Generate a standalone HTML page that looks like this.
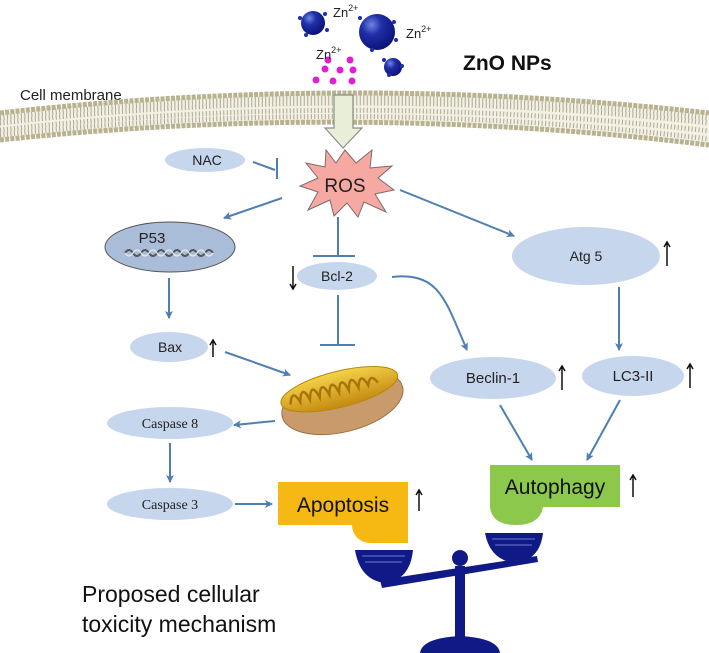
<!DOCTYPE html>
<html><head><meta charset="utf-8"><style>
html,body{margin:0;padding:0;background:#fff;}
svg{display:block;font-family:"Liberation Sans",sans-serif;}
</style></head><body>
<svg width="709" height="653" viewBox="0 0 709 653" xmlns="http://www.w3.org/2000/svg">
<defs>
<marker id="ah" markerWidth="8" markerHeight="8" refX="7" refY="4" orient="auto" markerUnits="userSpaceOnUse">
<path d="M0,0 L8,4 L0,8 L2,4 z" fill="#4f7fb0"/></marker>
<radialGradient id="np" cx="0.35" cy="0.3" r="0.7"><stop offset="0" stop-color="#6f86e0"/><stop offset="0.4" stop-color="#1f2fa8"/><stop offset="1" stop-color="#0c147a"/></radialGradient>
<linearGradient id="gold" x1="0" y1="0" x2="0" y2="1"><stop offset="0" stop-color="#f5d34a"/><stop offset="1" stop-color="#c48a10"/></linearGradient>
</defs>

<circle cx="313" cy="23" r="12" fill="url(#np)"/>
<circle cx="377" cy="32" r="18" fill="url(#np)"/>
<circle cx="393" cy="67" r="9" fill="url(#np)"/>
<g fill="#1f2fa8"><circle cx="300" cy="18" r="2"/><circle cx="325" cy="14" r="2"/><circle cx="327" cy="30" r="2"/><circle cx="306" cy="35" r="2"/><circle cx="360" cy="18" r="2"/><circle cx="394" cy="22" r="2"/><circle cx="396" cy="40" r="2"/><circle cx="372" cy="50" r="2"/><circle cx="384" cy="60" r="2"/><circle cx="402" cy="66" r="2"/><circle cx="389" cy="75" r="2"/></g>
<g fill="#e020d0"><circle cx="328" cy="60" r="3.5"/><circle cx="350" cy="60" r="3.5"/><circle cx="325" cy="69" r="3.5"/><circle cx="340" cy="70" r="3.5"/><circle cx="353" cy="70" r="3.5"/><circle cx="316" cy="80" r="3.5"/><circle cx="333" cy="81" r="3.5"/><circle cx="352" cy="81" r="3.5"/></g>
<g font-size="13" fill="#222">
<text x="333" y="17">Zn<tspan font-size="9" dy="-6">2+</tspan></text>
<text x="406" y="38">Zn<tspan font-size="9" dy="-6">2+</tspan></text>
<text x="316" y="59">Zn<tspan font-size="9" dy="-6">2+</tspan></text>
</g>
<text x="463" y="70" font-size="21" font-weight="bold" fill="#111">ZnO NPs</text>
<text x="20" y="100" font-size="15" fill="#222">Cell membrane</text>

<path d="M0,113 Q354,73 709,113 L709,145 Q354,102 0,140 Z" fill="#f3f1e4"/>
<path d="M0,118 Q354,78 709,118 M0,123 Q354,83 709,123 M0,130 Q354,90 709,131 M0,135 Q354,96 709,139" fill="none" stroke="#8b8870" stroke-width="5" stroke-dasharray="1 2.5" opacity="0.7"/>
<path d="M0,113 Q354,73 709,113" fill="none" stroke="#b9b290" stroke-width="5" stroke-dasharray="4 1.2"/>
<path d="M0,140 Q354,102 709,145" fill="none" stroke="#b9b290" stroke-width="5" stroke-dasharray="4 1.2"/>

<path d="M334,95 L353,95 L353,128 L362,128 L343,148 L325,128 L334,128 Z" fill="#e8eed8" stroke="#8a8f86" stroke-width="1.2"/>

<path d="M345,150 L356,163 L372,150 L370,168 L392,166 L378,178 L394,190 L375,194 L386,212 L364,202 L358,217 L347,203 L334,216 L330,200 L308,210 L318,192 L300,186 L318,178 L306,163 L325,167 L326,150 L336,163 Z" fill="#f6a8a2" stroke="#7d6a6a" stroke-width="1"/>
<text x="345" y="192" font-size="19" text-anchor="middle" fill="#222">ROS</text>

<g fill="#c6d6ec">
<ellipse cx="205" cy="160" rx="40" ry="12"/>
<ellipse cx="337" cy="276" rx="40" ry="14"/>
<ellipse cx="586" cy="256" rx="74" ry="29"/>
<ellipse cx="169" cy="347" rx="39" ry="15"/>
<ellipse cx="493" cy="378" rx="63" ry="21"/>
<ellipse cx="633" cy="376" rx="51" ry="20"/>
<ellipse cx="170" cy="423" rx="63" ry="16"/>
<ellipse cx="170" cy="504" rx="63" ry="16"/>
</g>
<ellipse cx="170" cy="247" rx="65" ry="25" fill="#a9bcd8" stroke="#555" stroke-width="1"/>
<path d="M125,253 q4,-6 8,0 q4,6 8,0 q4,-6 8,0 q4,6 8,0 q4,-6 8,0 q4,6 8,0 q4,-6 8,0 q4,6 8,0 q4,-6 8,0 q4,6 8,0 q4,-6 8,0" fill="none" stroke="#555" stroke-width="2"/>
<path d="M125,253 q4,6 8,0 q4,-6 8,0 q4,6 8,0 q4,-6 8,0 q4,6 8,0 q4,-6 8,0 q4,6 8,0 q4,-6 8,0 q4,6 8,0 q4,-6 8,0 q4,6 8,0" fill="none" stroke="#eee" stroke-width="1.2"/>

<g font-size="14" fill="#222" text-anchor="middle">
<text x="207" y="165">NAC</text>
<text x="152" y="243" font-size="15">P53</text>
<text x="337" y="281">Bcl-2</text>
<text x="586" y="261">Atg 5</text>
<text x="170" y="352">Bax</text>
<text x="493" y="383" font-size="15">Beclin-1</text>
<text x="633" y="381" font-size="15">LC3-II</text>
<text x="170" y="428" font-family="Liberation Serif,serif">Caspase 8</text>
<text x="170" y="509" font-family="Liberation Serif,serif">Caspase 3</text>
</g>

<g stroke="#111" stroke-width="1.5" fill="none">
<path d="M213,341 V357 M210,345 L213,340 L216,345"/>
<path d="M293,266 V288 M290,284 L293,289 L296,284"/>
<path d="M667,242 V266 M664,247 L667,242 L670,247"/>
<path d="M562,366 V390 M559,371 L562,366 L565,371"/>
<path d="M690,364 V388 M687,369 L690,364 L693,369"/>
<path d="M419,490 V511 M416,495 L419,490 L422,495"/>
<path d="M633,475 V497 M630,480 L633,475 L636,480"/>
</g>

<g stroke="#4f7fb0" stroke-width="2" fill="none">
<path d="M282,198 L224,218" marker-end="url(#ah)"/>
<path d="M400,190 L514,236" marker-end="url(#ah)"/>
<path d="M253,162 L275,170"/><path d="M277,158 L277,179"/>
<path d="M338,217 V256"/><path d="M313,256 H355"/>
<path d="M338,295 V345"/><path d="M320,345 H355"/>
<path d="M392,277 C440,272 445,300 467,350" marker-end="url(#ah)"/>
<path d="M169,278 V318" marker-end="url(#ah)"/>
<path d="M225,352 L290,375" marker-end="url(#ah)"/>
<path d="M619,287 V350" marker-end="url(#ah)"/>
<path d="M275,421 L234,425" marker-end="url(#ah)"/>
<path d="M170,443 V482" marker-end="url(#ah)"/>
<path d="M235,504 L272,504" marker-end="url(#ah)"/>
<path d="M500,405 L532,460" marker-end="url(#ah)"/>
<path d="M620,400 L587,460" marker-end="url(#ah)"/>
</g>

<g transform="rotate(-14 341 396)">
<ellipse cx="341" cy="402" rx="62" ry="30" fill="#c99a6a"/>
<ellipse cx="341" cy="402" rx="62" ry="30" fill="none" stroke="#9b6f45" stroke-width="1"/>
<ellipse cx="341" cy="389" rx="60" ry="18" fill="url(#gold)" stroke="#b8860b"/>
<path d="M290,392 q5,-16 10,0 q5,-18 10,0 q5,-18 10,0 q5,-18 10,0 q5,-18 10,0 q5,-18 10,0 q5,-18 10,0 q5,-16 10,0 q5,-12 10,0" fill="none" stroke="#a87408" stroke-width="2.5"/>
</g>

<path d="M278,482 H408 V543 H370 A18,18 0 0 1 352,525 H278 Z" fill="#f6b812"/>
<path d="M352,525 H408 V530 Q400,543 380,543 Q356,543 352,525 Z" fill="#f6b812"/>
<text x="343" y="512" font-size="21" text-anchor="middle" fill="#111">Apoptosis</text>
<path d="M490,465 H620 V507 H543 Q540,525 516,525 Q492,525 490,507 Z" fill="#8cc84b"/>
<text x="555" y="494" font-size="21" text-anchor="middle" fill="#111">Autophagy</text>

<g fill="#0f1a86">
<path d="M355,550 H413 Q410,580 385,583 Q360,580 355,550 Z"/>
<path d="M485,533 H543 Q540,560 515,563 Q490,560 485,533 Z"/>
<path d="M380,580 L537,556 L538,562 L382,588 Z"/>
<circle cx="460" cy="558" r="8"/>
<rect x="455" y="566" width="10" height="78"/>
<path d="M420,653 Q422,638 460,636 Q498,638 500,653 Z"/>
</g>
<g stroke="#5a68c0" stroke-width="1.2"><path d="M362,556 H405 M365,562 H402"/><path d="M492,539 H535 M495,545 H532"/></g>

<text x="82" y="602" font-size="23" fill="#111">Proposed cellular</text>
<text x="82" y="632" font-size="23" fill="#111">toxicity mechanism</text>
</svg>
</body></html>
